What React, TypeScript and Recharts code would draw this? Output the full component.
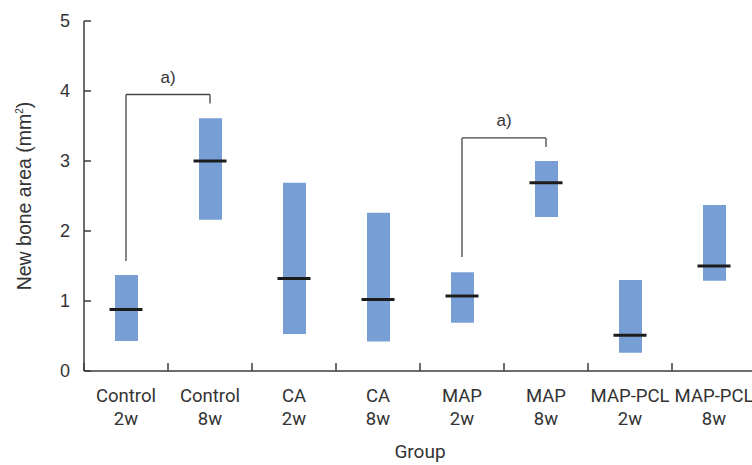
import React from "react";
import { ComposedChart, Bar, Line, XAxis, YAxis, ReferenceLine } from "recharts";

const groups = ["Control 2w", "Control 8w", "CA 2w", "CA 8w", "MAP 2w", "MAP 8w", "MAP-PCL 2w", "MAP-PCL 8w"];
const lowValues = [0.43, 2.16, 0.53, 0.42, 0.69, 2.2, 0.26, 1.29];
const highValues = [1.37, 3.61, 2.69, 2.26, 1.41, 3.0, 1.3, 2.37];
const medianValues = [0.88, 3.0, 1.32, 1.02, 1.07, 2.69, 0.51, 1.5];
const yTicks = [0, 1, 2, 3, 4, 5];

// significance brackets: left group, right group, left foot, top, right foot
const brackets = [
  { from: "Control 2w", to: "Control 8w", start: 1.57, top: 3.95, end: 3.82, label: "a)" },
  { from: "MAP 2w", to: "MAP 8w", start: 1.63, top: 3.33, end: 3.2, label: "a)" },
];

const data = groups.map((g, i) => ({
  group: g,
  range: [lowValues[i], highValues[i]],
  median: medianValues[i],
}));

const AXIS = "#3c3c3c";
const TEXT = "#333333";
const sans = "Roboto, 'Noto Sans', sans-serif";
const arial = "'Liberation Sans', Arial, sans-serif";

function GroupTick(props: any) {
  const { x, y, payload } = props;
  const [name, week] = String(payload.value).split(" ");
  const half = payload.offset || 42;
  return (
    <g>
      <line x1={x - half} x2={x - half} y1={y} y2={y - 8} stroke={AXIS} strokeWidth={1.5} />
      <text x={x} y={y} textAnchor="middle" fill={TEXT} fontFamily={sans} fontSize={18.5}>
        <tspan x={x} dy={31}>{name}</tspan>
        <tspan x={x} dy={23}>{week}</tspan>
      </text>
    </g>
  );
}

function ValueTick(props: any) {
  const { x, y, payload } = props;
  return (
    <g>
      <line x1={x} x2={x + 7} y1={y} y2={y} stroke={AXIS} strokeWidth={1.5} />
      <text x={x - 14} y={y} dy="0.36em" textAnchor="end" fill={TEXT} fontFamily={arial} fontSize={18}>
        {payload.value}
      </text>
    </g>
  );
}

function MedianMark(props: any) {
  const { cx, cy } = props;
  if (cx == null || cy == null) return null;
  return <line x1={cx - 16.5} x2={cx + 16.5} y1={cy} y2={cy} stroke="#1c1c1c" strokeWidth={3} />;
}

function YTitle(props: any) {
  const vb = props.viewBox || { x: 0, y: 21, width: 84, height: 350 };
  const cx = vb.x + 31;
  const cy = vb.y + vb.height / 2;
  return (
    <text
      transform={`translate(${cx},${cy}) rotate(-90)`}
      textAnchor="middle"
      fill={TEXT}
      fontFamily={arial}
      fontSize={19.5}
    >
      New bone area (mm
      <tspan fontSize={10} dy={-8}>2</tspan>
      <tspan dy={8}>)</tspan>
    </text>
  );
}

export default function App() {
  return (
    <div style={{ width: 752, height: 465, overflow: "hidden", background: "#fff" }}>
      <style>{"body{margin:0}"}</style>
      <ComposedChart
        width={760}
        height={465}
        data={data}
        margin={{ top: 21, right: 4, bottom: 0, left: 0 }}
        barCategoryGap={0}
      >
        <XAxis
          dataKey="group"
          height={94}
          tickSize={0}
          tickMargin={0}
          interval={0}
          tick={<GroupTick />}
          axisLine={{ stroke: AXIS, strokeWidth: 1.5 }}
          label={{
            value: "Group",
            position: "insideBottom",
            offset: 7,
            fill: TEXT,
            fontFamily: sans,
            fontSize: 19,
          }}
        />
        <YAxis
          width={84}
          domain={[0, 5]}
          ticks={yTicks}
          tickSize={0}
          tickMargin={0}
          tick={<ValueTick />}
          axisLine={{ stroke: AXIS, strokeWidth: 1.5 }}
          label={{ content: <YTitle /> }}
        />
        <Bar dataKey="range" fill="#779fd5" barSize={23} isAnimationActive={false} />
        <Line
          dataKey="median"
          stroke="none"
          dot={<MedianMark />}
          activeDot={false}
          isAnimationActive={false}
        />
        {brackets.flatMap((b, i) => [
          <ReferenceLine
            key={`l${i}`}
            segment={[{ x: b.from, y: b.start }, { x: b.from, y: b.top }]}
            stroke="#444"
            strokeWidth={1.3}
          />,
          <ReferenceLine
            key={`t${i}`}
            segment={[{ x: b.from, y: b.top }, { x: b.to, y: b.top }]}
            stroke="#444"
            strokeWidth={1.3}
            label={{ value: b.label, position: "top", offset: 12, fill: TEXT, fontFamily: arial, fontSize: 17 }}
          />,
          <ReferenceLine
            key={`r${i}`}
            segment={[{ x: b.to, y: b.top }, { x: b.to, y: b.end }]}
            stroke="#444"
            strokeWidth={1.3}
          />,
        ])}
      </ComposedChart>
    </div>
  );
}
